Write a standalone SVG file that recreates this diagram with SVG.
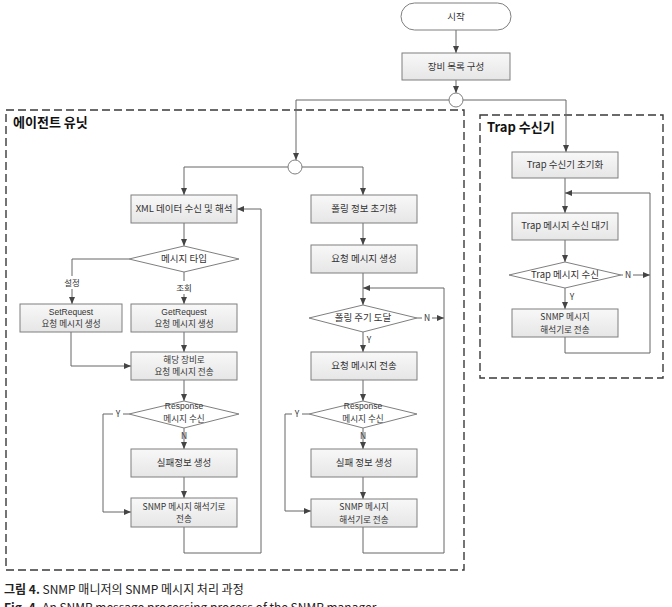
<svg xmlns="http://www.w3.org/2000/svg" width="672" height="607" viewBox="0 0 672 607">
<style>
.box{fill:url(#g);stroke:#7f7f7f;stroke-width:1}
.dia{fill:#fff;stroke:#7f7f7f;stroke-width:1}
.t{font-family:"Noto Sans CJK KR","Liberation Sans",sans-serif;font-size:9.5px;fill:#333;text-anchor:middle}
.t2{font-family:"Noto Sans CJK KR","Liberation Sans",sans-serif;font-size:8.6px;fill:#333;text-anchor:middle}
.ts{font-family:"Liberation Sans","Noto Sans CJK KR",sans-serif;font-size:8.5px;fill:#333;text-anchor:middle}
.lbl{font-family:"Noto Sans CJK KR","Liberation Sans",sans-serif;font-size:8.5px;fill:#333;text-anchor:middle}
.c{fill:none;stroke:#666;stroke-width:1}
.dash{fill:none;stroke:#3a3a3a;stroke-width:1.4;stroke-dasharray:8 4}
.title{font-family:"Noto Sans CJK KR","Liberation Sans",sans-serif;font-size:13px;font-weight:bold;fill:#111}
.cap{font-family:"Noto Sans CJK KR","Liberation Sans",sans-serif;font-size:12px;fill:#222}
.bg{fill:#fff}
</style>
<defs>
<linearGradient id="g" x1="0" y1="0" x2="0" y2="1">
<stop offset="0" stop-color="#f8f8f8"/>
<stop offset="1" stop-color="#e6e6e6"/>
</linearGradient>
<marker id="a" markerWidth="7" markerHeight="6" refX="7" refY="3" orient="auto" markerUnits="userSpaceOnUse">
<path d="M0,0 L7,3 L0,6 Z" fill="#444"/>
</marker>
</defs>

<g id="containers">
<rect class="dash" x="6" y="110" width="458" height="460"/>
<text class="title" x="13" y="127">에이전트 유닛</text>
<rect class="dash" x="480" y="115" width="183" height="263"/>
<text class="title" x="487" y="132">Trap 수신기</text>
</g>

<g id="connectors">
<path class="c" d="M456,30 V53" marker-end="url(#a)"/>
<path class="c" d="M456,80 V93" marker-end="url(#a)"/>
<path class="c" d="M449,100 H296 V160" marker-end="url(#a)"/>
<path class="c" d="M463,100 H566 V152" marker-end="url(#a)"/>
<path class="c" d="M288,167 H184 V195" marker-end="url(#a)"/>
<path class="c" d="M302,167 H363 V195" marker-end="url(#a)"/>
<!-- left column -->
<path class="c" d="M184,223 V246" marker-end="url(#a)"/>
<path class="c" d="M129,259 H72 V304" marker-end="url(#a)"/>
<path class="c" d="M184,272 V304" marker-end="url(#a)"/>
<path class="c" d="M184,332 V352" marker-end="url(#a)"/>
<path class="c" d="M71,332 V366 H131" marker-end="url(#a)"/>
<path class="c" d="M184,380 V401" marker-end="url(#a)"/>
<path class="c" d="M129,414 H103 V512 H131" marker-end="url(#a)"/>
<path class="c" d="M184,428 V449" marker-end="url(#a)"/>
<path class="c" d="M184,477 V498" marker-end="url(#a)"/>
<path class="c" d="M184,527 V553 H261 V209 H237" marker-end="url(#a)"/>
<!-- right column -->
<path class="c" d="M363,223 V245" marker-end="url(#a)"/>
<path class="c" d="M363,273 V305" marker-end="url(#a)"/>
<path class="c" d="M417,318 H444" marker-end="url(#a)"/>
<path class="c" d="M363,332 V352" marker-end="url(#a)"/>
<path class="c" d="M363,380 V401" marker-end="url(#a)"/>
<path class="c" d="M309,414 H285 V511 H311" marker-end="url(#a)"/>
<path class="c" d="M363,428 V449" marker-end="url(#a)"/>
<path class="c" d="M363,477 V499" marker-end="url(#a)"/>
<path class="c" d="M363,527 V553 H444 V288 H363" marker-end="url(#a)"/>
<!-- trap -->
<path class="c" d="M565,178 V213" marker-end="url(#a)"/>
<path class="c" d="M565,240 V262" marker-end="url(#a)"/>
<path class="c" d="M621,275 H650" marker-end="url(#a)"/>
<path class="c" d="M565,288 V309" marker-end="url(#a)"/>
<path class="c" d="M565,337 V353 H650 V193 H565" marker-end="url(#a)"/>
<!-- labels -->
<rect class="bg" x="62" y="276" width="20" height="13"/>
<text class="lbl" x="72" y="286">설정</text>
<rect class="bg" x="174" y="281" width="20" height="13"/>
<text class="lbl" x="184" y="291">조회</text>
<rect class="bg" x="113" y="409" width="10" height="10"/>
<text class="lbl" x="118" y="417">Y</text>
<text class="lbl" x="184" y="439">N</text>
<rect class="bg" x="422" y="313" width="10" height="10"/>
<text class="lbl" x="427" y="321">N</text>
<text class="lbl" x="369" y="343">Y</text>
<rect class="bg" x="292" y="409" width="10" height="10"/>
<text class="lbl" x="297" y="417">Y</text>
<text class="lbl" x="363" y="439">N</text>
<rect class="bg" x="623" y="270" width="10" height="10"/>
<text class="lbl" x="628" y="278">N</text>
<text class="lbl" x="572" y="300">Y</text>
</g>

<g id="start"><rect x="401" y="3" width="110" height="27" rx="13.5" fill="#fff" stroke="#7f7f7f"/><text class="t" x="456" y="20">시작</text></g>
<g id="device-list"><rect class="box" x="402" y="53" width="108" height="27"/><text class="t" x="456" y="70">장비 목록 구성</text></g>
<g id="fork1"><circle cx="456" cy="100" r="7" fill="#fff" stroke="#7f7f7f"/></g>
<g id="fork2"><circle cx="295" cy="167" r="7" fill="#fff" stroke="#7f7f7f"/></g>

<g id="xml-recv"><rect class="box" x="131" y="195" width="106" height="28"/><text class="t" x="184" y="212">XML 데이터 수신 및 해석</text></g>
<g id="msg-type"><polygon class="dia" points="129,259 184,246 239,259 184,272"/><text class="t" x="184" y="262">메시지 타입</text></g>
<g id="set-req"><rect class="box" x="20" y="304" width="102" height="28"/><text class="ts" x="71" y="314.5">SetRequest</text><text class="t2" x="71" y="327">요청 메시지 생성</text></g>
<g id="get-req"><rect class="box" x="131" y="304" width="106" height="28"/><text class="ts" x="184" y="314.5">GetRequest</text><text class="t2" x="184" y="327">요청 메시지 생성</text></g>
<g id="send-dev"><rect class="box" x="131" y="352" width="106" height="28"/><text class="t2" x="184" y="362.5">해당 장비로</text><text class="t2" x="184" y="375">요청 메시지 전송</text></g>
<g id="resp-l"><polygon class="dia" points="129,414 184,401 239,414 184,428"/><text class="ts" x="184" y="409">Response</text><text class="t2" x="184" y="421.5">메시지 수신</text></g>
<g id="fail-l"><rect class="box" x="131" y="449" width="106" height="28"/><text class="t" x="184" y="466">실패정보 생성</text></g>
<g id="snmp-l"><rect class="box" x="131" y="498" width="106" height="29"/><text class="t2" x="184" y="509.5">SNMP 메시지 해석기로</text><text class="t2" x="184" y="522">전송</text></g>

<g id="poll-init"><rect class="box" x="311" y="195" width="106" height="28"/><text class="t" x="364" y="212">폴링 정보 초기화</text></g>
<g id="req-gen"><rect class="box" x="311" y="245" width="106" height="28"/><text class="t" x="364" y="262">요청 메시지 생성</text></g>
<g id="poll-cycle"><polygon class="dia" points="309,318 363,305 417,318 363,332"/><text class="t" x="363" y="321">폴링 주기 도달</text></g>
<g id="req-send"><rect class="box" x="311" y="352" width="106" height="28"/><text class="t" x="364" y="369">요청 메시지 전송</text></g>
<g id="resp-r"><polygon class="dia" points="309,414 363,401 417,414 363,428"/><text class="ts" x="363" y="409">Response</text><text class="t2" x="363" y="421.5">메시지 수신</text></g>
<g id="fail-r"><rect class="box" x="311" y="449" width="106" height="28"/><text class="t" x="364" y="466">실패 정보 생성</text></g>
<g id="snmp-r"><rect class="box" x="311" y="499" width="106" height="28"/><text class="t2" x="364" y="510">SNMP 메시지</text><text class="t2" x="364" y="522.5">해석기로 전송</text></g>

<g id="trap-init"><rect class="box" x="512" y="152" width="106" height="26"/><text class="t" x="565" y="168">Trap 수신기 초기화</text></g>
<g id="trap-wait"><rect class="box" x="512" y="213" width="106" height="27"/><text class="t" x="565" y="229">Trap 메시지 수신 대기</text></g>
<g id="trap-recv"><polygon class="dia" points="509,275 565,262 621,275 565,288"/><text class="t" x="565" y="278">Trap 메시지 수신</text></g>
<g id="trap-snmp"><rect class="box" x="512" y="309" width="106" height="28"/><text class="t2" x="565" y="320">SNMP 메시지</text><text class="t2" x="565" y="332.5">해석기로 전송</text></g>

<g id="caption">
<text class="cap" x="4" y="594"><tspan font-weight="bold">그림 4.</tspan> SNMP 매니저의 SNMP 메시지 처리 과정</text>
<text class="cap" x="4" y="612"><tspan font-weight="bold">Fig. 4.</tspan> An SNMP message processing process of the SNMP manager</text>
</g>
</svg>
